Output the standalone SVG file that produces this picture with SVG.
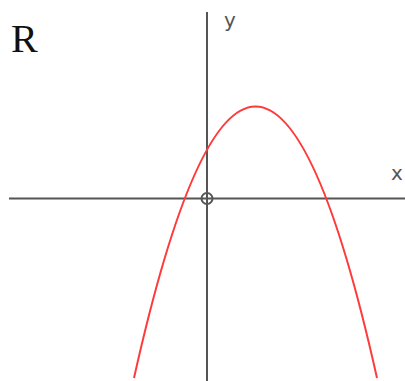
<svg xmlns="http://www.w3.org/2000/svg" width="405" height="381" viewBox="0 0 405 381">
<style>
.axis{stroke:#555;stroke-width:2;fill:none}
.lbl{font-family:"DejaVu Sans",sans-serif;font-size:20px;fill:#555}
</style>
<rect width="405" height="381" fill="#fff"/>
<g id="axes">
<line class="axis" x1="9" y1="198.5" x2="405" y2="198.5"/>
<line class="axis" x1="207" y1="12" x2="207" y2="381"/>
<circle class="axis" cx="207" cy="198.5" r="5.5" stroke-width="1.8"/>
</g>
<g id="curve">
<path d="M134,378 Q255.5,-165 377,378" fill="none" stroke="#ff3a3a" stroke-width="2"/>
</g>
<text class="lbl" x="224" y="27">y</text>
<text class="lbl" x="391" y="180">x</text>
<text x="11" y="52" font-family="Liberation Serif,serif" font-size="40" fill="#111">R</text>
</svg>
